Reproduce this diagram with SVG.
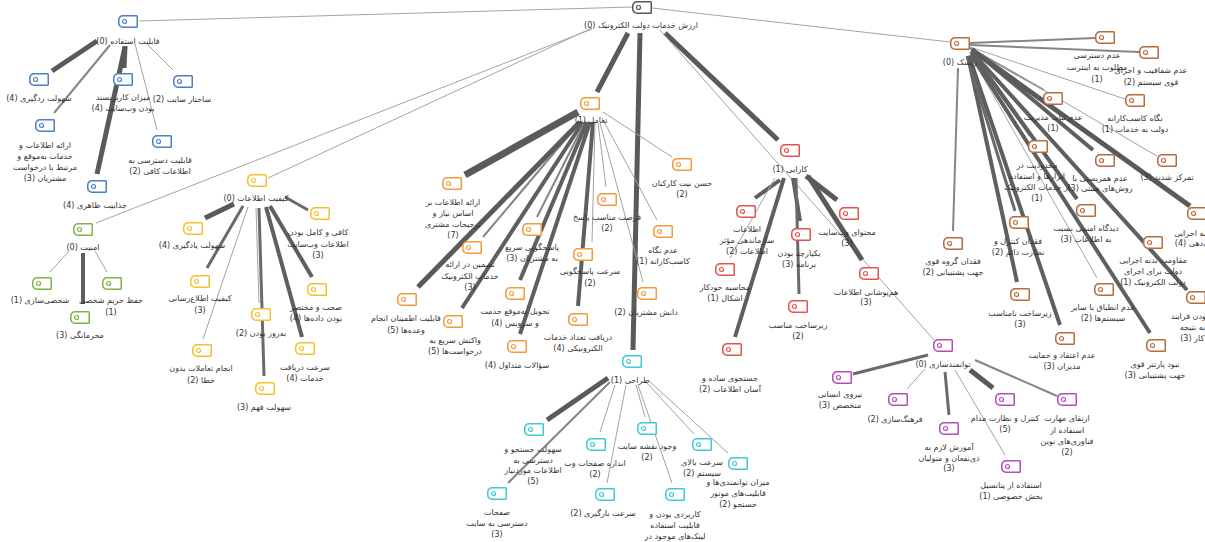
<svg xmlns="http://www.w3.org/2000/svg" xmlns:xlink="http://www.w3.org/1999/xlink" width="1205" height="542" viewBox="0 0 1205 542">
<style>
text{font-family:'DejaVu Sans',sans-serif;font-size:8px;fill:#333;text-anchor:middle;direction:rtl}
line{fill:none}
.w1{stroke:#a3a3a3;stroke-width:1}
.w2{stroke:#858585;stroke-width:2}
.w3{stroke:#6a6a6a;stroke-width:3}
.w4{stroke:#5f5f5f;stroke-width:4}
.w5{stroke:#5a5a5a;stroke-width:5}
.w7{stroke:#5a5a5a;stroke-width:7}
.k{color:#555}
.b{color:#4a7fc1}
.y{color:#f2c22e}
.g{color:#7db546}
.o{color:#f39a3e}
.r{color:#e4524e}
.c{color:#3fc9d4}
.p{color:#b24cb9}
.n{color:#b36c3e}
</style>
<defs>
<symbol id="ic" viewBox="0 0 20 13" width="20" height="13" overflow="visible">
<path d="M5,0.75 H18.5 Q19.25,0.75 19.25,1.5 V11.5 Q19.25,12.25 18.5,12.25 H5 A4.25,4.25 0 0 1 0.75,8 V5 A4.25,4.25 0 0 1 5,0.75 Z" fill="#fff" stroke="currentColor" stroke-width="1.5"/>
<circle cx="6.5" cy="6.5" r="2" fill="none" stroke="currentColor" stroke-width="1.2"/>
</symbol>
</defs>
<g id="connectors">
<line class="w1" x1="139" y1="21" x2="632" y2="7"/>
<line class="w1" x1="592" y1="28" x2="268" y2="178"/>
<line class="w1" x1="592" y1="29" x2="96" y2="223"/>
<line class="w5" x1="628" y1="33" x2="597" y2="92"/>
<line class="w5" x1="640" y1="33" x2="633" y2="350"/>
<line class="w5" x1="665" y1="33" x2="778" y2="140"/>
<line class="w1" x1="660" y1="30" x2="934" y2="340"/>
<line class="w1" x1="652" y1="8" x2="950" y2="42"/>
<line class="w5" x1="97" y1="41" x2="52" y2="71"/>
<line class="w2" x1="110" y1="45" x2="54" y2="113"/>
<line class="w5" x1="125" y1="46" x2="124" y2="68"/>
<line class="w5" x1="125" y1="47" x2="97" y2="174"/>
<line class="w1" x1="148" y1="45" x2="173" y2="70"/>
<line class="w1" x1="135" y1="44" x2="157" y2="130"/>
<line class="w5" x1="234" y1="204" x2="205" y2="218"/>
<line class="w3" x1="243" y1="206" x2="207" y2="268"/>
<line class="w1" x1="248" y1="207" x2="203" y2="339"/>
<line class="w1" x1="256" y1="208" x2="259" y2="303"/>
<line class="w3" x1="259" y1="208" x2="264" y2="376"/>
<line class="w4" x1="266" y1="207" x2="302" y2="337"/>
<line class="w4" x1="270" y1="206" x2="312" y2="277"/>
<line class="w3" x1="285" y1="197" x2="308" y2="210"/>
<line class="w1" x1="69" y1="251" x2="50" y2="272"/>
<line class="w1" x1="95" y1="251" x2="107" y2="272"/>
<line class="w4" x1="83" y1="253" x2="83" y2="304"/>
<line class="w7" x1="578" y1="112" x2="465" y2="175"/>
<line class="w2" x1="580" y1="122" x2="483" y2="237"/>
<line class="w5" x1="580" y1="122" x2="418" y2="287"/>
<line class="w4" x1="583" y1="122" x2="462" y2="308"/>
<line class="w2" x1="585" y1="122" x2="537" y2="217"/>
<line class="w4" x1="587" y1="122" x2="520" y2="280"/>
<line class="w4" x1="590" y1="122" x2="520" y2="334"/>
<line class="w4" x1="593" y1="122" x2="578" y2="306"/>
<line class="w1" x1="595" y1="123" x2="592" y2="242"/>
<line class="w1" x1="598" y1="123" x2="606" y2="187"/>
<line class="w1" x1="600" y1="123" x2="643" y2="282"/>
<line class="w1" x1="602" y1="118" x2="657" y2="220"/>
<line class="w1" x1="603" y1="112" x2="672" y2="157"/>
<line class="w5" x1="608" y1="378" x2="547" y2="420"/>
<line class="w2" x1="610" y1="382" x2="508" y2="483"/>
<line class="w1" x1="615" y1="385" x2="600" y2="432"/>
<line class="w1" x1="626" y1="385" x2="607" y2="483"/>
<line class="w1" x1="636" y1="385" x2="645" y2="417"/>
<line class="w1" x1="638" y1="385" x2="672" y2="483"/>
<line class="w1" x1="646" y1="382" x2="694" y2="434"/>
<line class="w1" x1="648" y1="380" x2="728" y2="453"/>
<line class="w4" x1="780" y1="180" x2="755" y2="198"/>
<line class="w1" x1="775" y1="178" x2="730" y2="258"/>
<line class="w4" x1="784" y1="178" x2="735" y2="337"/>
<line class="w4" x1="793" y1="178" x2="800" y2="221"/>
<line class="w3" x1="796" y1="178" x2="799" y2="294"/>
<line class="w5" x1="806" y1="176" x2="837" y2="200"/>
<line class="w5" x1="808" y1="176" x2="862" y2="260"/>
<line class="w3" x1="928" y1="355" x2="853" y2="374"/>
<line class="w1" x1="925" y1="369" x2="907" y2="389"/>
<line class="w3" x1="945" y1="372" x2="949" y2="415"/>
<line class="w1" x1="955" y1="370" x2="1005" y2="455"/>
<line class="w5" x1="970" y1="370" x2="993" y2="388"/>
<line class="w2" x1="975" y1="360" x2="1057" y2="396"/>
<line class="w2" x1="970" y1="43" x2="1095" y2="38"/>
<line class="w2" x1="970" y1="45" x2="1139" y2="52"/>
<line class="w1" x1="970" y1="47" x2="1125" y2="99"/>
<line class="w2" x1="970" y1="48" x2="1044" y2="90"/>
<line class="w1" x1="975" y1="50" x2="1157" y2="156"/>
<line class="w4" x1="972" y1="49" x2="1093" y2="150"/>
<line class="w2" x1="970" y1="52" x2="1030" y2="136"/>
<line class="w4" x1="972" y1="53" x2="1077" y2="199"/>
<line class="w2" x1="972" y1="52" x2="1143" y2="240"/>
<line class="w5" x1="972" y1="50" x2="1190" y2="206"/>
<line class="w4" x1="972" y1="52" x2="1187" y2="290"/>
<line class="w1" x1="970" y1="54" x2="1097" y2="278"/>
<line class="w4" x1="968" y1="56" x2="1017" y2="282"/>
<line class="w3" x1="967" y1="56" x2="1015" y2="211"/>
<line class="w4" x1="969" y1="56" x2="1060" y2="325"/>
<line class="w2" x1="958" y1="68" x2="953" y2="231"/>
<line class="w4" x1="971" y1="55" x2="1150" y2="333"/>
</g>
<g id="root"><use href="#ic" x="632" y="1" class="k"/><text x="641" y="28">ارزش خدمات دولت الکترونیک (0)</text></g>
<g id="n-qa"><use href="#ic" x="118" y="15" class="b"/><text x="128" y="44">قابلیت استفاده (0)</text></g>
<g id="n-sr"><use href="#ic" x="29" y="73" class="b"/><text x="39" y="101">سهولت ردگیری (4)</text></g>
<g id="n-ar"><use href="#ic" x="35" y="119" class="b"/><text><tspan x="45" y="148">ارائه اطلاعات و</tspan><tspan x="45" y="159">خدمات به‌موقع و</tspan><tspan x="45" y="170">مرتبط با درخواست</tspan><tspan x="45" y="181">مشتریان (3)</tspan></text></g>
<g id="n-mk"><use href="#ic" x="113" y="73" class="b"/><text><tspan x="123" y="100">میزان کاربرپسند</tspan><tspan x="123" y="111">بودن وب‌سایت (4)</tspan></text></g>
<g id="n-ss"><use href="#ic" x="173" y="75" class="b"/><text x="182" y="102">ساختار سایت (2)</text></g>
<g id="n-qd"><use href="#ic" x="152" y="135" class="b"/><text><tspan x="160" y="163">قابلیت دسترسی به</tspan><tspan x="160" y="174">اطلاعات کافی (2)</tspan></text></g>
<g id="n-jz"><use href="#ic" x="87" y="180" class="b"/><text x="95" y="208">جذابیت ظاهری (4)</text></g>
<g id="n-ke"><use href="#ic" x="247" y="174" class="y"/><text x="256" y="201">کیفیت اطلاعات (0)</text></g>
<g id="n-sy"><use href="#ic" x="183" y="222" class="y"/><text x="192" y="248">سهولت یادگیری (4)</text></g>
<g id="n-kr"><use href="#ic" x="190" y="275" class="y"/><text><tspan x="200" y="301">کیفیت اطلاع‌رسانی</tspan><tspan x="200" y="313">(3)</tspan></text></g>
<g id="n-at"><use href="#ic" x="192" y="344" class="y"/><text><tspan x="201" y="371">انجام تعاملات بدون</tspan><tspan x="201" y="383">خطا (2)</tspan></text></g>
<g id="n-bb"><use href="#ic" x="251" y="308" class="y"/><text x="261" y="336">به‌روز بودن (2)</text></g>
<g id="n-sf"><use href="#ic" x="255" y="382" class="y"/><text x="264" y="410">سهولت فهم (3)</text></g>
<g id="n-sd"><use href="#ic" x="295" y="342" class="y"/><text><tspan x="305" y="370">سرعت دریافت</tspan><tspan x="305" y="381">خدمات (4)</tspan></text></g>
<g id="n-sm"><use href="#ic" x="307" y="283" class="y"/><text><tspan x="316" y="310">صحت و مختصر</tspan><tspan x="316" y="321">بودن داده‌ها (4)</tspan></text></g>
<g id="n-kk"><use href="#ic" x="310" y="207" class="y"/><text><tspan x="318" y="235">کافی و کامل بودن</tspan><tspan x="318" y="247">اطلاعات وب‌سایت</tspan><tspan x="318" y="258">(3)</tspan></text></g>
<g id="n-am"><use href="#ic" x="73" y="223" class="g"/><text x="83" y="250">امنیت (0)</text></g>
<g id="n-sh"><use href="#ic" x="32" y="277" class="g"/><text x="40" y="303">شخصی‌سازی (1)</text></g>
<g id="n-hh"><use href="#ic" x="102" y="277" class="g"/><text><tspan x="111" y="303">حفظ حریم شخصی</tspan><tspan x="111" y="315">(1)</tspan></text></g>
<g id="n-mh"><use href="#ic" x="70" y="311" class="g"/><text x="80" y="338">محرمانگی (3)</text></g>
<g id="n-ta"><use href="#ic" x="580" y="97" class="o"/><text x="591" y="123">تعامل (1)</text></g>
<g id="n-e1"><use href="#ic" x="442" y="177" class="o"/><text><tspan x="453" y="205">ارائه اطلاعات بر</tspan><tspan x="453" y="216">اساس نیاز و</tspan><tspan x="453" y="227">ترجیحات مشتری</tspan><tspan x="453" y="238">(7)</tspan></text></g>
<g id="n-e2"><use href="#ic" x="462" y="241" class="o"/><text><tspan x="470" y="267">تضمین در ارائه</tspan><tspan x="470" y="279">خدمات الکترونیک</tspan><tspan x="470" y="290">(3)</tspan></text></g>
<g id="n-e3"><use href="#ic" x="397" y="293" class="o"/><text><tspan x="406" y="321">قابلیت اطمینان انجام</tspan><tspan x="406" y="333">وعده‌ها (5)</tspan></text></g>
<g id="n-e4"><use href="#ic" x="443" y="315" class="o"/><text><tspan x="455" y="343">واکنش سریع به</tspan><tspan x="455" y="354">درخواست‌ها (5)</tspan></text></g>
<g id="n-e5"><use href="#ic" x="522" y="223" class="o"/><text><tspan x="532" y="250">پاسخگویی سریع</tspan><tspan x="532" y="261">به مشتریان (3)</tspan></text></g>
<g id="n-e6"><use href="#ic" x="505" y="287" class="o"/><text><tspan x="515" y="314">تحویل به‌موقع خدمت</tspan><tspan x="515" y="326">و سرویس (4)</tspan></text></g>
<g id="n-e7"><use href="#ic" x="507" y="340" class="o"/><text x="517" y="368">سؤالات متداول (4)</text></g>
<g id="n-e8"><use href="#ic" x="568" y="313" class="o"/><text><tspan x="578" y="340">دریافت تعداد خدمات</tspan><tspan x="578" y="351">الکترونیکی (4)</tspan></text></g>
<g id="n-e9"><use href="#ic" x="573" y="248" class="o"/><text><tspan x="590" y="274">سرعت پاسخگویی</tspan><tspan x="590" y="286">(2)</tspan></text></g>
<g id="n-e10"><use href="#ic" x="597" y="193" class="o"/><text><tspan x="607" y="220">فرصت مناسب پاسخ</tspan><tspan x="607" y="231">(2)</tspan></text></g>
<g id="n-e11"><use href="#ic" x="637" y="287" class="o"/><text x="646" y="315">دانش مشتریان (2)</text></g>
<g id="n-e12"><use href="#ic" x="653" y="225" class="o"/><text><tspan x="663" y="253">عدم نگاه</tspan><tspan x="663" y="264">کاسب‌کارانه (1)</tspan></text></g>
<g id="n-e13"><use href="#ic" x="672" y="158" class="o"/><text><tspan x="682" y="186">حسن نیت کارکنان</tspan><tspan x="682" y="197">(2)</tspan></text></g>
<g id="n-tr"><use href="#ic" x="622" y="355" class="c"/><text x="630" y="383">طراحی (1)</text></g>
<g id="n-c1"><use href="#ic" x="524" y="423" class="c"/><text><tspan x="533" y="452">سهولت جستجو و</tspan><tspan x="533" y="463">دسترسی به</tspan><tspan x="533" y="473">اطلاعات موردنیاز</tspan><tspan x="533" y="484">(5)</tspan></text></g>
<g id="n-c2"><use href="#ic" x="487" y="487" class="c"/><text><tspan x="497" y="515">صفحات</tspan><tspan x="497" y="526">دسترسی به سایت</tspan><tspan x="497" y="537">(3)</tspan></text></g>
<g id="n-c3"><use href="#ic" x="586" y="438" class="c"/><text><tspan x="595" y="466">اندازه صفحات وب</tspan><tspan x="595" y="477">(2)</tspan></text></g>
<g id="n-c4"><use href="#ic" x="595" y="488" class="c"/><text x="603" y="516">سرعت بارگیری (2)</text></g>
<g id="n-c5"><use href="#ic" x="637" y="422" class="c"/><text><tspan x="647" y="449">وجود نقشه سایت</tspan><tspan x="647" y="460">(2)</tspan></text></g>
<g id="n-c6"><use href="#ic" x="665" y="488" class="c"/><text><tspan x="675" y="517">کاربردی بودن و</tspan><tspan x="675" y="528">قابلیت استفاده</tspan><tspan x="675" y="539">لینک‌های موجود در</tspan></text></g>
<g id="n-c7"><use href="#ic" x="692" y="438" class="c"/><text><tspan x="702" y="465">سرعت بالای</tspan><tspan x="702" y="476">سیستم (2)</tspan></text></g>
<g id="n-c8"><use href="#ic" x="728" y="457" class="c"/><text><tspan x="738" y="485">میزان توانمندی‌ها و</tspan><tspan x="738" y="496">قابلیت‌های موتور</tspan><tspan x="738" y="507">جستجو (2)</tspan></text></g>
<g id="n-ka"><use href="#ic" x="780" y="144" class="r"/><text x="790" y="172">کارایی (1)</text></g>
<g id="n-r1"><use href="#ic" x="736" y="205" class="r"/><text><tspan x="747" y="232">اطلاعات</tspan><tspan x="747" y="243">سازماندهی مؤثر</tspan><tspan x="747" y="254">اطلاعات (2)</tspan></text></g>
<g id="n-r2"><use href="#ic" x="715" y="263" class="r"/><text><tspan x="725" y="290">محاسبه خودکار</tspan><tspan x="725" y="301">اشکال (1)</tspan></text></g>
<g id="n-r3"><use href="#ic" x="722" y="343" class="r"/><text><tspan x="730" y="381">جستجوی ساده و</tspan><tspan x="730" y="392">آسان اطلاعات (2)</tspan></text></g>
<g id="n-r4"><use href="#ic" x="791" y="228" class="r"/><text><tspan x="799" y="256">یکپارچه بودن</tspan><tspan x="799" y="267">برنامه (3)</tspan></text></g>
<g id="n-r5"><use href="#ic" x="788" y="300" class="r"/><text><tspan x="798" y="328">زیرساخت مناسب</tspan><tspan x="798" y="339">(2)</tspan></text></g>
<g id="n-r6"><use href="#ic" x="839" y="207" class="r"/><text><tspan x="847" y="235">محتوای وب‌سایت</tspan><tspan x="847" y="246">(3)</tspan></text></g>
<g id="n-r7"><use href="#ic" x="859" y="267" class="r"/><text><tspan x="866" y="295">هم‌پوشانی اطلاعات</tspan><tspan x="866" y="305">(3)</tspan></text></g>
<g id="n-tv"><use href="#ic" x="933" y="339" class="p"/><text x="943" y="367">توانمندسازی (0)</text></g>
<g id="n-p1"><use href="#ic" x="832" y="371" class="p"/><text><tspan x="840" y="397">نیروی انسانی</tspan><tspan x="840" y="408">متخصص (3)</tspan></text></g>
<g id="n-p2"><use href="#ic" x="888" y="393" class="p"/><text x="895" y="422">فرهنگ‌سازی (2)</text></g>
<g id="n-p3"><use href="#ic" x="939" y="422" class="p"/><text><tspan x="949" y="450">آموزش لازم به</tspan><tspan x="949" y="461">ذی‌نفعان و متولیان</tspan><tspan x="949" y="471">(3)</tspan></text></g>
<g id="n-p4"><use href="#ic" x="1001" y="460" class="p"/><text><tspan x="1011" y="488">استفاده از پتانسیل</tspan><tspan x="1011" y="499">بخش خصوصی (1)</tspan></text></g>
<g id="n-p5"><use href="#ic" x="995" y="393" class="p"/><text><tspan x="1005" y="421">کنترل و نظارت مدام</tspan><tspan x="1005" y="432">(5)</tspan></text></g>
<g id="n-p6"><use href="#ic" x="1057" y="393" class="p"/><text><tspan x="1067" y="421">ارتقای مهارت</tspan><tspan x="1067" y="433">استفاده از</tspan><tspan x="1067" y="444">فناوری‌های نوین</tspan><tspan x="1067" y="455">(2)</tspan></text></g>
<g id="n-rs"><use href="#ic" x="950" y="37" class="n"/><text x="960" y="65">ریسک (0)</text></g>
<g id="n-b1"><use href="#ic" x="1095" y="31" class="n"/><text><tspan x="1097" y="58">عدم دسترسی</tspan><tspan x="1097" y="70">مطلوب به اینترنت</tspan><tspan x="1097" y="82">(1)</tspan></text></g>
<g id="n-b2"><use href="#ic" x="1139" y="46" class="n"/><text><tspan x="1151" y="73">عدم شفافیت و اجرای</tspan><tspan x="1151" y="85">قوی سیستم (2)</tspan></text></g>
<g id="n-b3"><use href="#ic" x="1125" y="94" class="n"/><text><tspan x="1135" y="121">نگاه کاسب‌کارانه</tspan><tspan x="1135" y="132">دولت به خدمات (1)</tspan></text></g>
<g id="n-b4"><use href="#ic" x="1043" y="92" class="n"/><text><tspan x="1053" y="120">عدم ثبات مدیریت</tspan><tspan x="1053" y="131">(1)</tspan></text></g>
<g id="n-b5"><use href="#ic" x="1157" y="154" class="n"/><text x="1167" y="180">تمرکز شدید (3)</text></g>
<g id="n-b6"><use href="#ic" x="1095" y="154" class="n"/><text><tspan x="1100" y="181">عدم همزیستی با</tspan><tspan x="1100" y="191">روش‌های سنتی (3)</tspan></text></g>
<g id="n-b7"><use href="#ic" x="1028" y="140" class="n"/><text><tspan x="1037" y="168">محدودیت در</tspan><tspan x="1037" y="179">ابزارها و استفاده</tspan><tspan x="1037" y="190">از خدمات الکترونیک</tspan><tspan x="1037" y="201">(1)</tspan></text></g>
<g id="n-b8"><use href="#ic" x="1076" y="204" class="n"/><text><tspan x="1086" y="231">دیدگاه امنیتی نسبت</tspan><tspan x="1086" y="242">به اطلاعات (3)</tspan></text></g>
<g id="n-b9"><use href="#ic" x="1143" y="236" class="n"/><text><tspan x="1153" y="263">مقاومت بدنه اجرایی</tspan><tspan x="1153" y="274">دولت برای اجرای</tspan><tspan x="1153" y="285">دولت الکترونیک (1)</tspan></text></g>
<g id="n-b10"><use href="#ic" x="1187" y="207" class="n"/><text><tspan x="1205" y="236">عدم برنامه اجرایی</tspan><tspan x="1205" y="246">و سازمان‌دهی (4)</tspan></text></g>
<g id="n-b11"><use href="#ic" x="1186" y="291" class="n"/><text><tspan x="1205" y="319">نامناسب بودن فرایند</tspan><tspan x="1205" y="330">اداره و به نتیجه</tspan><tspan x="1205" y="341">رسیدن کار (3)</tspan></text></g>
<g id="n-b12"><use href="#ic" x="1094" y="283" class="n"/><text><tspan x="1103" y="310">عدم انطباق با سایر</tspan><tspan x="1103" y="321">سیستم‌ها (2)</tspan></text></g>
<g id="n-b13"><use href="#ic" x="1010" y="288" class="n"/><text><tspan x="1020" y="316">زیرساخت نامناسب</tspan><tspan x="1020" y="327">(3)</tspan></text></g>
<g id="n-b14"><use href="#ic" x="1009" y="216" class="n"/><text><tspan x="1018" y="244">فقدان کنترل و</tspan><tspan x="1018" y="255">نظارت دائم (2)</tspan></text></g>
<g id="n-b15"><use href="#ic" x="1055" y="332" class="n"/><text><tspan x="1062" y="358">عدم اعتقاد و حمایت</tspan><tspan x="1062" y="369">مدیران (3)</tspan></text></g>
<g id="n-b16"><use href="#ic" x="943" y="237" class="n"/><text><tspan x="953" y="264">فقدان گروه قوی</tspan><tspan x="953" y="275">جهت پشتیبانی (2)</tspan></text></g>
<g id="n-b17"><use href="#ic" x="1146" y="339" class="n"/><text><tspan x="1155" y="367">نبود پارتنر قوی</tspan><tspan x="1155" y="378">جهت پشتیبانی (3)</tspan></text></g>
</svg>
